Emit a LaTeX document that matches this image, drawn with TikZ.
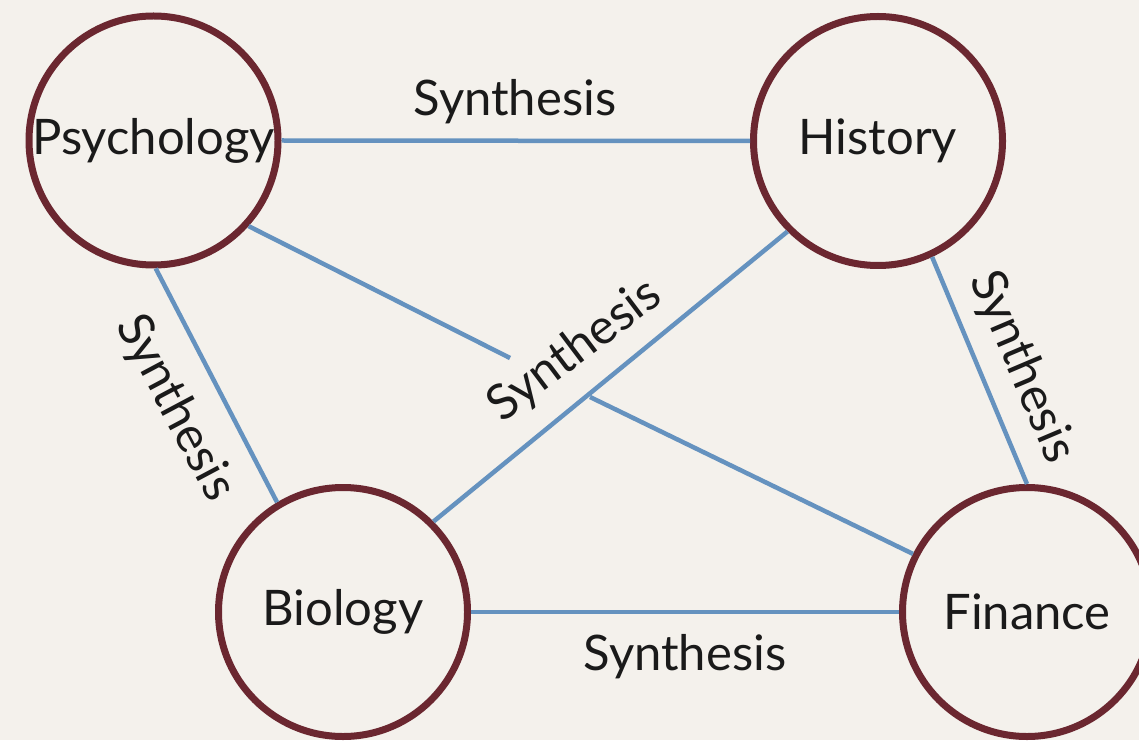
\documentclass[tikz,border=0pt]{standalone}
\usepackage{fontspec}
\setmainfont{Lato}
\definecolor{bg}{HTML}{F4F1EC}
\definecolor{ring}{HTML}{6B2730}
\definecolor{link}{HTML}{6592BF}
\definecolor{ink}{HTML}{1A1A1A}
\begin{document}
\begin{tikzpicture}[x=1pt,y=1pt,
  topic/.style={circle,draw=ring,line width=7pt,fill=bg,minimum size=249pt,inner sep=0pt,
    text=ink,font=\fontsize{49}{58}\selectfont},
  conn/.style={draw=link,line width=4.5pt},
  lbl/.style={text=ink,font=\fontsize{49}{58}\selectfont,inner sep=0pt}]
\fill[bg] (0,0) rectangle (1139,740);
\useasboundingbox (0,0) rectangle (1139,740);
\node[topic] (P) at (153.5,599.5) {Psychology};
\node[topic] (H) at (878,599) {History};
\node[topic] (B) at (343,128) {Biology};
\node[topic] (F) at (1027,128) {Finance};
\coordinate (g1) at (510,382);
\coordinate (g2) at (590,343);
\draw[conn] (P.east) -- (H.west);
\draw[conn] (B.east) -- (F.west);
\draw[conn] (P.-89) -- (B.121);
\draw[conn] (H.-65.6) -- (F.90);
\draw[conn] (B.45.3) -- (H.-135.9);
\draw[conn] (P.-42.8) -- (g1);
\draw[conn] (g2) -- (F.153.4);
\node[lbl] (l1) at (515,638) {Synthesis};
\node[lbl,rotate=-62] (l2) at (175,332) {Synthesis};
\node[lbl,rotate=-67] (l3) at (1022,373) {Synthesis};
\node[lbl,rotate=37] (l4) at (575,389) {Synthesis};
\node[lbl] (l5) at (685,83) {Synthesis};
\end{tikzpicture}
\end{document}
